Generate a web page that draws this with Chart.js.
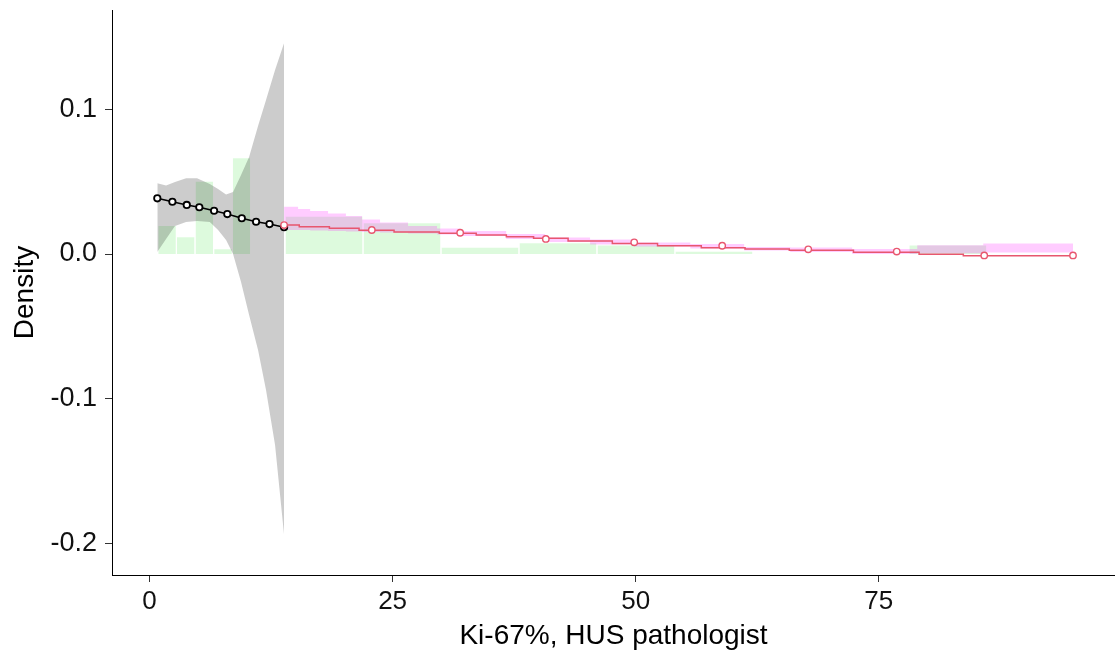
<!DOCTYPE html>
<html>
<head>
<meta charset="utf-8">
<script src="https://cdn.jsdelivr.net/npm/chart.js@4/dist/chart.umd.min.js"></script>
<style>
  html, body { margin: 0; padding: 0; background: #fff; }
  canvas { display: block; }
</style>
</head>
<body>
<canvas id="density" width="1115" height="659"></canvas>
<script>
"use strict";

// histogram of the low group (narrow bins) and the high group (wide bins)
const leftBinEdges  = [0.85, 2.76, 4.68, 6.6, 8.52, 10.4];
const leftDensity   = [0.0194, 0.0115, 0.050, 0.0032, 0.0661];
const rightBinEdges = [13.94, 21.96, 29.98, 38.0, 46.02, 54.04, 62.06, 70.08, 78.1, 86.12, 94.14];
const rightDensity  = [0.0258, 0.0212, 0.0044, 0.0074, 0.0058, 0.0016, 0, 0, 0.0059, 0];

// low group: fitted density with confidence band
const blackX = [0.8, 2.35, 3.83, 5.12, 6.64, 8.0, 9.49, 10.96, 12.34, 13.84];
const blackY = [0.0385, 0.0361, 0.0339, 0.0323, 0.0299, 0.0276, 0.0247, 0.0223, 0.0207, 0.0185];
const greyX     = [0.8, 1.7, 2.62, 3.76, 4.89, 6.2, 7.05, 7.87, 8.59, 9.41, 10.24, 11.16, 11.98, 12.91, 13.84];
const greyUpper = [0.0489, 0.0473, 0.0498, 0.0523, 0.0523, 0.0484, 0.0449, 0.0411, 0.0428, 0.0546, 0.0670, 0.0885, 0.1064, 0.1272, 0.1458];
const greyLower = [0.0014, 0.0104, 0.0194, 0.0221, 0.0228, 0.0221, 0.0166, 0.0097, 0.0, -0.0194, -0.0422, -0.0663, -0.0940, -0.1320, -0.1942];

// high group: step estimate with its band
const redStepX = [13.84, 15.4, 18.5, 21.55, 25.15, 29.8, 33.6, 36.7, 39.5, 43.05, 47.6, 52.25, 56.75, 61.25, 65.8, 72.4, 79.15, 83.7, 94.98];
const redStepY = [0.0200, 0.0189, 0.0178, 0.0164, 0.0152, 0.0143, 0.0131, 0.0120, 0.0109, 0.0090, 0.0073, 0.0057, 0.0044, 0.0035, 0.0026, 0.0012, -0.0002, -0.0012, -0.0012];
const redPointX = [13.84, 22.86, 31.95, 40.76, 49.85, 58.9, 67.75, 76.85, 85.85, 94.98];
const redPointY = [0.0200, 0.0166, 0.0147, 0.0104, 0.0081, 0.0057, 0.0032, 0.0017, -0.0010, -0.0010];
const pinkX     = [13.84, 15.28, 16.52, 18.36, 20.2, 21.86, 23.71, 26.59, 29.57, 31.95, 36.68, 40.69, 45.31, 49.85, 55.62, 61.16, 65.9, 72.27, 78.96, 85.75, 94.98];
const pinkUpper = [0.0327, 0.0311, 0.0297, 0.0280, 0.0263, 0.0238, 0.0218, 0.0194, 0.0176, 0.0159, 0.0138, 0.0114, 0.0100, 0.0079, 0.0069, 0.0048, 0.0045, 0.0035, 0.0060, 0.0073, 0.0073];
const pinkLower = [0.0166, 0.0166, 0.0162, 0.0159, 0.0156, 0.0152, 0.0149, 0.0142, 0.0135, 0.0124, 0.0104, 0.0083, 0.0066, 0.0052, 0.0038, 0.0024, 0.0014, 0.0, 0.0005, 0.0010, 0.0010];

const xTicks = [0, 25, 50, 75];
const yTicks = [-0.2, -0.1, 0, 0.1];

const FONT = "'Liberation Sans', Arial, sans-serif";
const RED = '#e8566f';

function toPoints(xs, ys) {
    return xs.map((x, i) => ({x: x, y: ys[i]}));
}

// one filled two-point line per non-empty bin, inset a little so the bins stay apart
function histogramDatasets(edges, density) {
    const gap = 0.05;
    const sets = [];
    density.forEach((d, i) => {
        if (d <= 0) {
            return;
        }
        sets.push({
            data: [{x: edges[i] + gap, y: d}, {x: edges[i + 1] - gap, y: d}],
            fill: 'origin',
            backgroundColor: 'rgba(144,238,144,0.3)',
            borderWidth: 0,
            pointRadius: 0,
            order: 10
        });
    });
    return sets;
}

// axes keep their own size, no extra room for half tick labels
function fixAxis(size) {
    return s => {
        if (s.isHorizontal()) {
            s.height = size;
        } else {
            s.width = size;
        }
        s.paddingTop = 0;
        s.paddingBottom = 0;
        s.paddingLeft = 0;
        s.paddingRight = 0;
    };
}

const datasets = [];
histogramDatasets(leftBinEdges, leftDensity).forEach(s => datasets.push(s));
histogramDatasets(rightBinEdges, rightDensity).forEach(s => datasets.push(s));

const greyLowerIdx = datasets.length;
datasets.push({data: toPoints(greyX, greyLower), borderWidth: 0, pointRadius: 0, fill: false, order: 9});
datasets.push({data: toPoints(greyX, greyUpper), borderWidth: 0, pointRadius: 0, fill: greyLowerIdx,
    backgroundColor: 'rgba(0,0,0,0.2)', order: 8});

const pinkLowerIdx = datasets.length;
datasets.push({data: toPoints(pinkX, pinkLower), borderWidth: 0, pointRadius: 0, stepped: true, fill: false, order: 7});
datasets.push({data: toPoints(pinkX, pinkUpper), borderWidth: 0, pointRadius: 0, stepped: true, fill: pinkLowerIdx,
    backgroundColor: 'rgba(255,0,255,0.2)', order: 6});

datasets.push({data: toPoints(redStepX, redStepY), borderColor: RED, borderWidth: 1.5, pointRadius: 0,
    stepped: true, fill: false, order: 4});
datasets.push({data: toPoints(blackX, blackY), borderColor: '#000', borderWidth: 1.6, pointRadius: 3.2,
    pointBorderWidth: 1.8, pointBorderColor: '#000', pointBackgroundColor: '#fff', fill: false, order: 3});
datasets.push({data: toPoints(redPointX, redPointY), showLine: false, pointRadius: 3.2,
    pointBorderWidth: 1.4, pointBorderColor: RED, pointBackgroundColor: '#fff', order: 1});

new Chart(document.getElementById('density'), {
    type: 'line',
    data: {datasets: datasets},
    options: {
        responsive: false,
        animation: false,
        devicePixelRatio: 1,
        layout: {autoPadding: false, padding: {top: 10, right: 0, left: 0, bottom: 0}},
        plugins: {legend: {display: false}, tooltip: {enabled: false}},
        scales: {
            x: {
                type: 'linear',
                min: -3.86,
                max: 99.3,
                afterBuildTicks: s => { s.ticks = xTicks.map(v => ({value: v})); },
                afterFit: fixAxis(84),
                grid: {drawOnChartArea: false, drawTicks: true, tickLength: 7, color: '#333', lineWidth: 1},
                border: {display: true, color: '#000', width: 1},
                ticks: {font: {family: FONT, size: 26}, color: '#111', padding: 4, maxRotation: 0,
                    callback: v => String(v)},
                title: {display: true, text: 'Ki-67%, HUS pathologist', color: '#000',
                    font: {family: FONT, size: 28}, padding: {top: 0, bottom: 6}}
            },
            y: {
                type: 'linear',
                min: -0.2218,
                max: 0.1686,
                afterBuildTicks: s => { s.ticks = yTicks.map(v => ({value: v})); },
                afterFit: fixAxis(112),
                grid: {drawOnChartArea: false, drawTicks: true, tickLength: 7, color: '#333', lineWidth: 1},
                border: {display: true, color: '#000', width: 1},
                ticks: {font: {family: FONT, size: 27}, color: '#111', padding: 8,
                    callback: v => v.toFixed(1)},
                title: {display: true, text: 'Density', color: '#000',
                    font: {family: FONT, size: 28}, padding: {top: 8, bottom: 0}}
            }
        }
    }
});
</script>
</body>
</html>
